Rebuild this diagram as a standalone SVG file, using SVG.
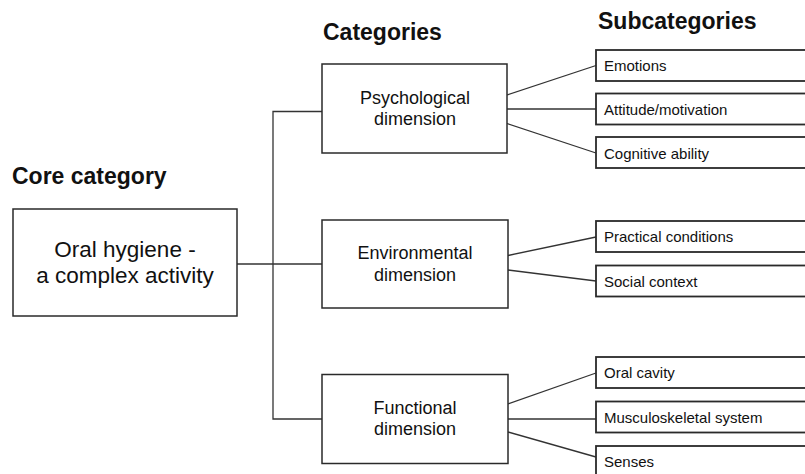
<svg xmlns="http://www.w3.org/2000/svg" width="805" height="474" viewBox="0 0 805 474">
<style>
  .hdr { font-family: "Liberation Sans", Arial, sans-serif; font-weight: bold; font-size: 23px; fill: #111; }
  .box { fill: #fff; stroke: #2a2a2a; stroke-width: 1.5; }
  .sub { fill: #fff; stroke: #2a2a2a; stroke-width: 1.8; }
  .core { font-family: "Liberation Sans", Arial, sans-serif; font-size: 22.5px; fill: #111; text-anchor: middle; }
  .cat { font-family: "Liberation Sans", Arial, sans-serif; font-size: 18px; fill: #111; text-anchor: middle; }
  .st { font-family: "Liberation Sans", Arial, sans-serif; font-size: 15px; fill: #111; }
  .conn line, .conn polyline { stroke: #333; stroke-width: 1.3; fill: none; }
</style>
<rect width="805" height="474" fill="#fff"/>

<text class="hdr" x="12" y="184.3">Core category</text>
<text class="hdr" x="323" y="39.5">Categories</text>
<text class="hdr" x="598" y="29.3">Subcategories</text>

<g id="connectors" class="conn">
  <line x1="237" y1="264" x2="322" y2="264"/>
  <polyline points="322,111.5 273,111.5 273,419 322,419"/>
  <line x1="507" y1="95" x2="596" y2="65.5"/>
  <line x1="507" y1="109" x2="596" y2="109"/>
  <line x1="507" y1="123.5" x2="596" y2="153"/>
  <line x1="508" y1="255.5" x2="596" y2="237"/>
  <line x1="508" y1="270" x2="596" y2="281"/>
  <line x1="508" y1="404" x2="596" y2="373"/>
  <line x1="508" y1="419" x2="596" y2="419"/>
  <line x1="508" y1="432" x2="596" y2="457"/>
</g>

<g id="core">
  <rect class="box" x="13" y="209" width="224" height="107"/>
  <text class="core" x="125" y="256.7">Oral hygiene -</text>
  <text class="core" x="125" y="283.3">a complex activity</text>
</g>

<g id="psychological">
  <rect class="box" x="322" y="64" width="185" height="89"/>
  <text class="cat" x="415" y="103.5">Psychological</text>
  <text class="cat" x="415" y="125">dimension</text>
</g>

<g id="environmental">
  <rect class="box" x="322" y="220" width="186" height="88"/>
  <text class="cat" x="415" y="259.3">Environmental</text>
  <text class="cat" x="415" y="280.7">dimension</text>
</g>

<g id="functional">
  <rect class="box" x="322" y="374.5" width="186" height="89"/>
  <text class="cat" x="415" y="414">Functional</text>
  <text class="cat" x="415" y="435">dimension</text>
</g>

<g id="emotions">
  <rect class="sub" x="596" y="50" width="230" height="31"/>
  <text class="st" x="604" y="71">Emotions</text>
</g>
<g id="attitude">
  <rect class="sub" x="596" y="93.5" width="230" height="31"/>
  <text class="st" x="604" y="114.5">Attitude/motivation</text>
</g>
<g id="cognitive">
  <rect class="sub" x="596" y="137" width="230" height="31"/>
  <text class="st" x="604" y="158.5">Cognitive ability</text>
</g>
<g id="practical">
  <rect class="sub" x="596" y="221" width="230" height="31"/>
  <text class="st" x="604" y="242">Practical conditions</text>
</g>
<g id="social">
  <rect class="sub" x="596" y="265.5" width="230" height="31"/>
  <text class="st" x="604" y="286.5">Social context</text>
</g>
<g id="oral">
  <rect class="sub" x="596" y="357" width="230" height="31"/>
  <text class="st" x="604" y="378">Oral cavity</text>
</g>
<g id="musculo">
  <rect class="sub" x="596" y="401.5" width="230" height="31"/>
  <text class="st" x="604" y="422.5">Musculoskeletal system</text>
</g>
<g id="senses">
  <rect class="sub" x="596" y="446" width="230" height="31"/>
  <text class="st" x="604" y="467">Senses</text>
</g>
</svg>
